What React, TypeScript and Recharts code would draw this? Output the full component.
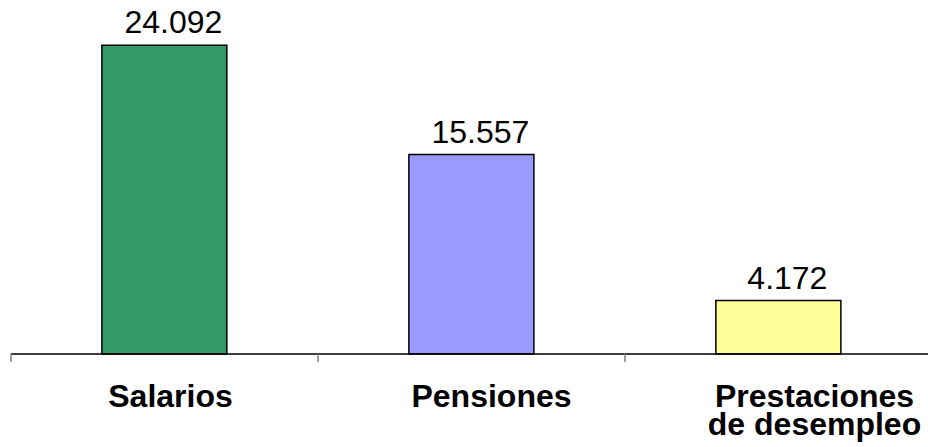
import React from 'react';
import { BarChart, Bar, XAxis, YAxis, Cell, LabelList } from 'recharts';

const categories = ['Salarios', 'Pensiones', 'Prestaciones\nde desempleo'];
const values = [24.092, 15.557, 4.172];
const valueLabels = ['24.092', '15.557', '4.172'];
const barColors = ['#339966', '#9999FF', '#FFFF99'];

const data = categories.map((name, i) => ({ name, value: values[i], label: valueLabels[i] }));

const FONT = '"Liberation Sans", Arial, sans-serif';
const labelShift = [6, 20, 36];

const CategoryTick = (props: any) => {
  const { x, y, payload, index } = props;
  const off = payload && payload.offset ? payload.offset : 153.5;
  const lines = String(payload.value).split('\n');
  const cx = x + (labelShift[index] || 0);
  return (
    <g>
      <line x1={x - off} x2={x - off} y1={y} y2={y + 8} stroke="#808080" strokeWidth={1.5} />
      {lines.map((ln, i) => (
        <text
          key={i}
          x={cx}
          y={y + 53 + i * 28}
          textAnchor="middle"
          fontFamily={FONT}
          fontWeight="bold"
          fontSize={32}
          fill="#000"
        >
          {ln}
        </text>
      ))}
    </g>
  );
};

const ValueLabel = (props: any) => {
  const { x, y, width, value } = props;
  return (
    <text
      x={x + width / 2 + 9}
      y={y - 12}
      textAnchor="middle"
      fontFamily={FONT}
      fontSize={32}
      fill="#000"
    >
      {value}
    </text>
  );
};

export default function App() {
  return (
    <div style={{ position: 'fixed', left: 0, top: 0, width: 928, height: 447, overflow: 'hidden', background: '#fff' }}>
      <BarChart
        width={940}
        height={447}
        data={data}
        margin={{ top: 33.5, right: 8, left: 11, bottom: 0 }}
        barCategoryGap="29.6%"
      >
        <XAxis
          dataKey="name"
          height={93}
          interval={0}
          axisLine={{ stroke: '#000', strokeWidth: 1.5 }}
          tickLine={false}
          tickSize={0}
          tickMargin={0}
          tick={<CategoryTick />}
        />
        <YAxis hide domain={[0, 25]} />
        <Bar dataKey="value" stroke="#000" strokeWidth={1.5} isAnimationActive={false}>
          {data.map((d, i) => (
            <Cell key={d.name} fill={barColors[i]} />
          ))}
          <LabelList dataKey="label" content={<ValueLabel />} />
        </Bar>
      </BarChart>
    </div>
  );
}
